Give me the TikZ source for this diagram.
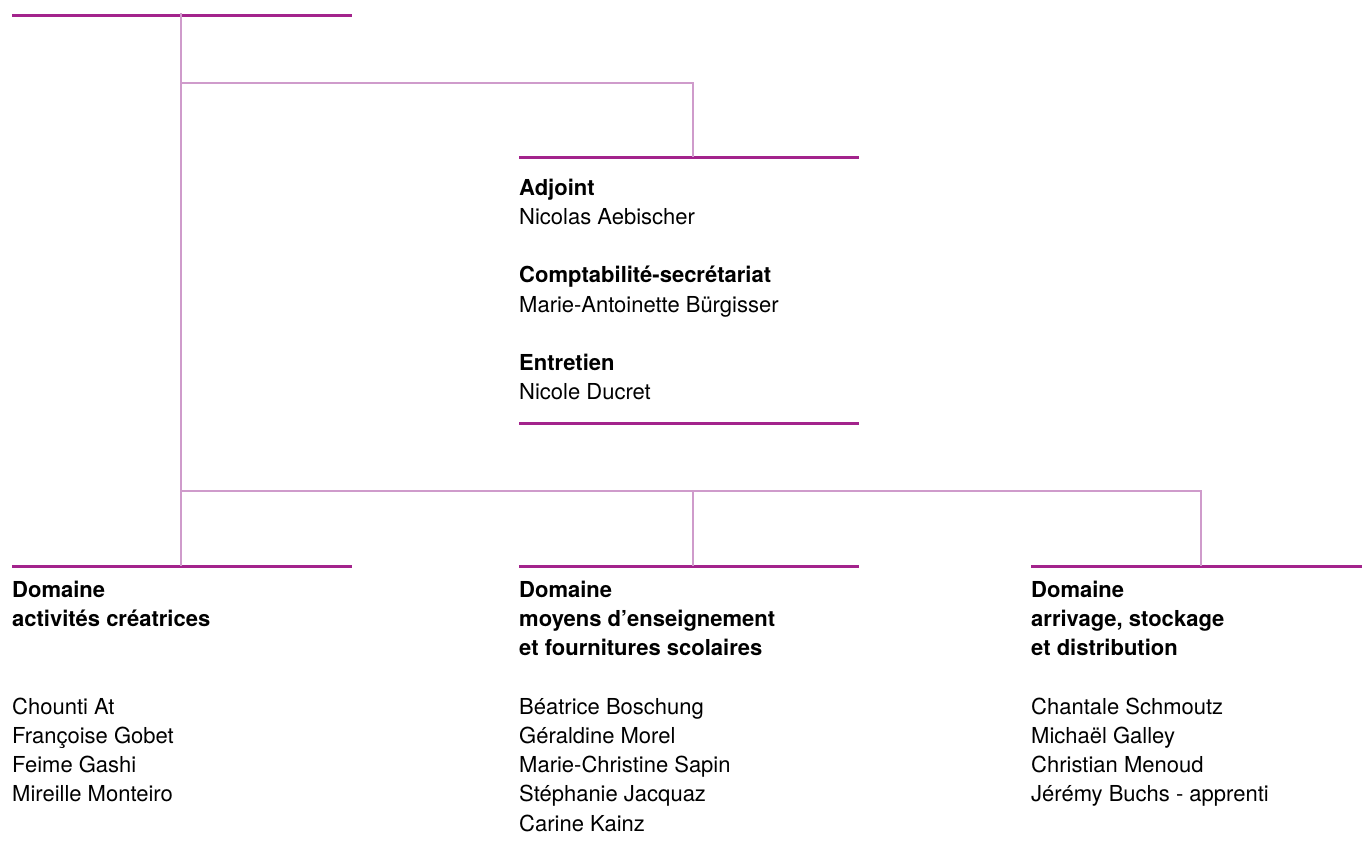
\documentclass[tikz,border=0pt]{standalone}
\usepackage{fontspec}
\setmainfont{TeX Gyre Heros}
\usepackage{xcolor}
\usetikzlibrary{positioning}
\definecolor{rulemag}{RGB}{163,35,140}
\definecolor{linkmag}{RGB}{207,155,203}
\tikzset{
	rule/.style={rulemag, line width=3pt},
	link/.style={linkmag, line width=2.5pt},
	unit/.style={anchor=base west, inner sep=0pt, font=\fontsize{22}{29.25}\selectfont}
}
\newcommand{\hd}[1]{\textbf{#1}}

\begin{document}
\begin{tikzpicture}[x=1pt, y=-1pt]
	\useasboundingbox (0,0) rectangle (1362,854);
	% rules
	\coordinate (dirL) at (12,15);     \coordinate (dirR) at (352,15);
	\coordinate (staffL) at (519,157); \coordinate (staffR) at (859,157);
	\coordinate (staffBL) at (519,423);\coordinate (staffBR) at (859,423);
	\coordinate (creaL) at (12,566);   \coordinate (creaR) at (352,566);
	\coordinate (moyL) at (519,566);   \coordinate (moyR) at (859,566);
	\coordinate (arrL) at (1031,566);  \coordinate (arrR) at (1362,566);
	\draw[rule] (dirL)--(dirR);
	\draw[rule] (staffL)--(staffR);
	\draw[rule] (staffBL)--(staffBR);
	\draw[rule] (creaL)--(creaR);
	\draw[rule] (moyL)--(moyR);
	\draw[rule] (arrL)--(arrR);
	% links
	\coordinate (top) at (181,13);
	\coordinate (crea) at (181,566);
	\coordinate (staff) at (693,157);
	\coordinate (moy) at (693,566);
	\coordinate (arr) at (1201,566);
	\coordinate (split) at (181,83);
	\coordinate (bar) at (181,491);
	\draw[link] (top)--(crea);
	\draw[link] (split)-|(staff);
	\draw[link] (bar)-|(arr);
	\draw[link] (bar-|moy)--(moy);
	% texts
	\node[unit] (staffT) at (519,195) {\begin{tabular}[t]{@{}l@{}}
		\hd{Adjoint}\\ Nicolas Aebischer\\ \\
		\hd{Comptabilité-secrétariat}\\ Marie-Antoinette Bürgisser\\ \\
		\hd{Entretien}\\ Nicole Ducret
	\end{tabular}};
	\node[unit] (creaT) at (12,597) {\begin{tabular}[t]{@{}l@{}}
		\hd{Domaine}\\ \hd{activités créatrices}\\ \\ \\
		Chounti At\\ Françoise Gobet\\ Feime Gashi\\ Mireille Monteiro
	\end{tabular}};
	\node[unit] (moyT) at (519,597) {\begin{tabular}[t]{@{}l@{}}
		\hd{Domaine}\\ \hd{moyens d’enseignement}\\ \hd{et fournitures scolaires}\\ \\
		Béatrice Boschung\\ Géraldine Morel\\ Marie-Christine Sapin\\ Stéphanie Jacquaz\\ Carine Kainz
	\end{tabular}};
	\node[unit] (arrT) at (1031,597) {\begin{tabular}[t]{@{}l@{}}
		\hd{Domaine}\\ \hd{arrivage, stockage}\\ \hd{et distribution}\\ \\
		Chantale Schmoutz\\ Michaël Galley\\ Christian Menoud\\ Jérémy Buchs - apprenti
	\end{tabular}};
\end{tikzpicture}
\end{document}
